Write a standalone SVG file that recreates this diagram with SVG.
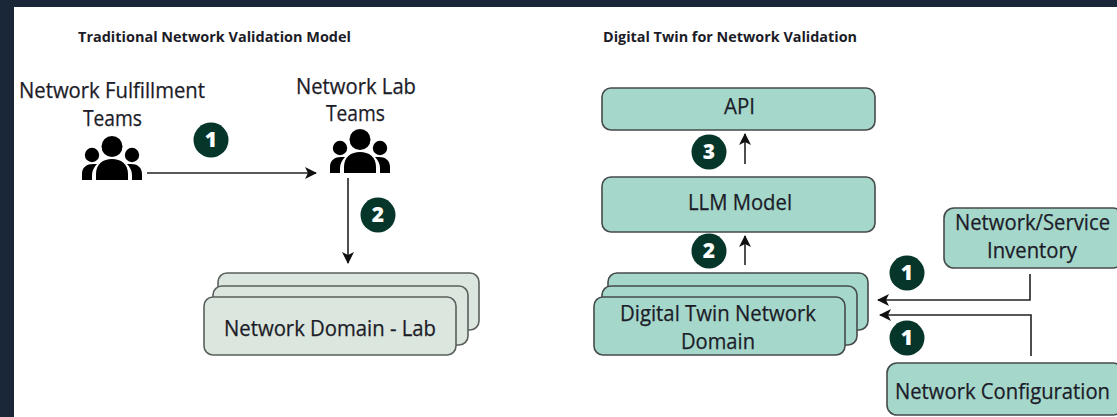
<svg xmlns="http://www.w3.org/2000/svg" xmlns:xlink="http://www.w3.org/1999/xlink" width="1117" height="417" viewBox="0 0 1117 417">
<style>
text{font-family:"Open Sans","Noto Sans","Liberation Sans",sans-serif;fill:#1c1c28}
.t{font-size:21px;stroke:#1c1c28;stroke-width:.25px}
.h{font-size:15px;font-weight:700}
.b{font-size:21px;font-weight:800;fill:#fff;text-anchor:middle}
.teal{fill:#a5d8cb;stroke:#454a4a;stroke-width:1.6}
.pale{fill:#dbe6de;stroke:#5a5f5c;stroke-width:1.6}
.dot{fill:#06352a}
.c{fill:none;stroke:#222;stroke-width:1.6}
</style>
<defs>
<marker id="a" viewBox="0 0 12 12" refX="11" refY="6" markerWidth="12" markerHeight="12" markerUnits="userSpaceOnUse" orient="auto"><path d="M0 0L12 6L0 12L3 6Z" fill="#111"/></marker>
<g id="people" fill="#000">
<circle cx="30" cy="10.5" r="10.5"/><circle cx="10" cy="19" r="7.2"/><circle cx="50" cy="19" r="7.2"/>
<path d="M14 44V38C14 28 21 23 30 23S46 28 46 38V44Z"/>
<path d="M0 44V38C0 31 5 28 11 28H15C12 31 10 35 10 39V44Z"/>
<path d="M60 44V38C60 31 55 28 49 28H45C48 31 50 35 50 39V44Z"/>
</g>
</defs>
<rect width="1117" height="417" fill="#1a2738"/>
<rect x="14" y="7" width="1103" height="410" fill="#fff"/>
<text class="h" x="78" y="42" textLength="273" lengthAdjust="spacingAndGlyphs">Traditional Network Validation Model</text>
<text class="h" x="603" y="42" textLength="254" lengthAdjust="spacingAndGlyphs">Digital Twin for Network Validation</text>
<g id="fulfillment-teams">
<text class="t" x="19" y="98" textLength="186" lengthAdjust="spacingAndGlyphs">Network Fulfillment</text>
<text class="t" x="83" y="126" textLength="59" lengthAdjust="spacingAndGlyphs">Teams</text>
<use href="#people" x="82" y="136"/>
</g>
<g id="lab-teams">
<text class="t" x="296" y="94" textLength="120" lengthAdjust="spacingAndGlyphs">Network Lab</text>
<text class="t" x="326" y="121" textLength="59" lengthAdjust="spacingAndGlyphs">Teams</text>
<use href="#people" x="330" y="129"/>
</g>
<g id="lab-domain">
<rect class="pale" x="218" y="273" width="261" height="57" rx="9"/>
<rect class="pale" x="213" y="286" width="255" height="59" rx="9"/>
<rect class="pale" x="204" y="297" width="252" height="58" rx="9"/>
<text class="t" x="224" y="336" textLength="212" lengthAdjust="spacingAndGlyphs">Network Domain - Lab</text>
</g>
<g id="api"><rect class="teal" x="602" y="88" width="273" height="42" rx="9"/><text class="t" x="724" y="114" textLength="31" lengthAdjust="spacingAndGlyphs">API</text></g>
<g id="llm"><rect class="teal" x="602" y="177" width="273" height="55" rx="9"/><text class="t" x="688" y="210" textLength="104" lengthAdjust="spacingAndGlyphs">LLM Model</text></g>
<g id="twin-domain">
<rect class="teal" x="608" y="273" width="260" height="57" rx="9"/>
<rect class="teal" x="602" y="286" width="255" height="59" rx="9"/>
<rect class="teal" x="594" y="297" width="251" height="58" rx="9"/>
<text class="t" x="620" y="321" textLength="196" lengthAdjust="spacingAndGlyphs">Digital Twin Network</text>
<text class="t" x="681" y="349" textLength="74" lengthAdjust="spacingAndGlyphs">Domain</text>
</g>
<g id="inventory"><rect class="teal" x="944" y="208" width="179" height="60" rx="10"/>
<text class="t" x="955" y="230" textLength="155" lengthAdjust="spacingAndGlyphs">Network/Service</text>
<text class="t" x="987" y="258" textLength="90" lengthAdjust="spacingAndGlyphs">Inventory</text></g>
<g id="configuration"><rect class="teal" x="887" y="363" width="236" height="52" rx="10"/>
<text class="t" x="895" y="399" textLength="215" lengthAdjust="spacingAndGlyphs">Network Configuration</text></g>
<g id="connectors">
<path class="c" d="M147 173H316" marker-end="url(#a)"/>
<path class="c" d="M348 178V263" marker-end="url(#a)"/>
<path class="c" d="M745 164V134" marker-end="url(#a)"/>
<path class="c" d="M745 265V236" marker-end="url(#a)"/>
<path class="c" d="M1030 274V300H878" marker-end="url(#a)"/>
<path class="c" d="M1031 356V315H880" marker-end="url(#a)"/>
</g>
<g id="badges">
<circle class="dot" cx="211" cy="140" r="17.5"/><text class="b" x="211" y="147">1</text>
<circle class="dot" cx="378" cy="215" r="17.5"/><text class="b" x="378" y="222">2</text>
<circle class="dot" cx="709" cy="152" r="17.5"/><text class="b" x="709" y="159">3</text>
<circle class="dot" cx="709" cy="251" r="17.5"/><text class="b" x="709" y="258">2</text>
<circle class="dot" cx="907" cy="273" r="17.5"/><text class="b" x="907" y="280">1</text>
<circle class="dot" cx="907" cy="338" r="17.5"/><text class="b" x="907" y="345">1</text>
</g>
</svg>
